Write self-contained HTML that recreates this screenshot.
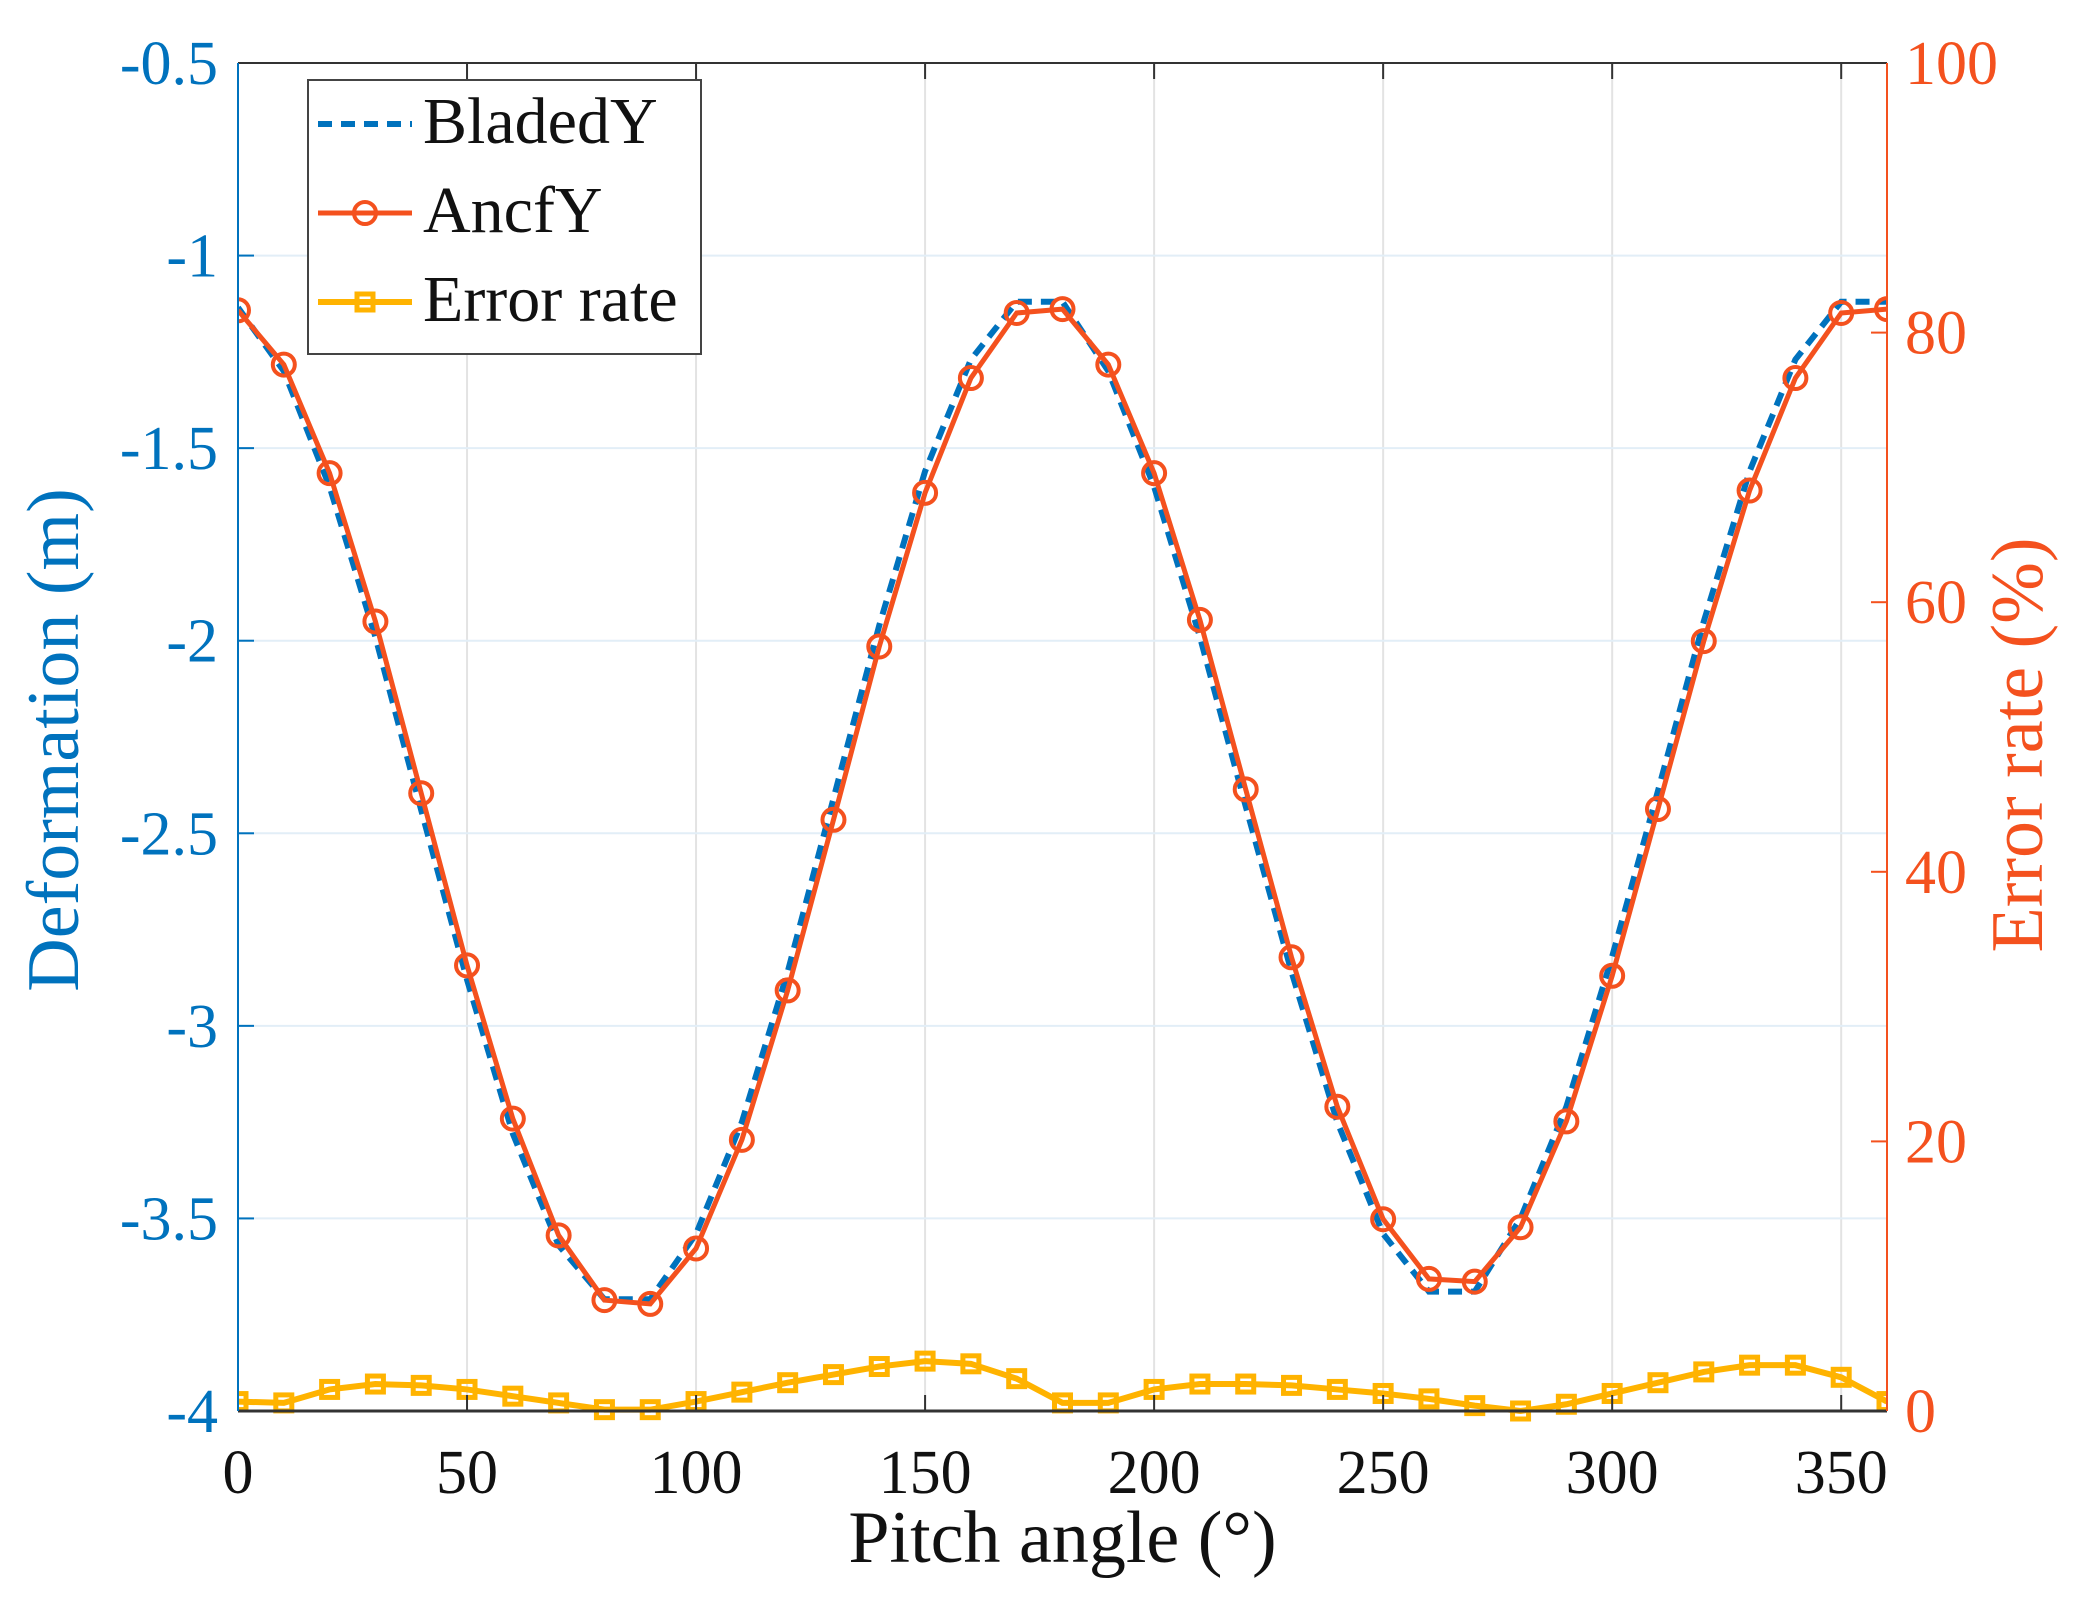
<!DOCTYPE html>
<html><head><meta charset="utf-8"><style>
html,body{margin:0;padding:0;background:#fff;}
svg{display:block;}
text{font-family:"Liberation Serif",serif;}
</style></head><body>
<svg id="chart" width="2073" height="1615" viewBox="0 0 2073 1615" xmlns="http://www.w3.org/2000/svg">
<rect width="2073" height="1615" fill="#fff"/>
<g id="grid"></g>
<g id="series"></g>
<g id="axes"></g>
<g id="legend">
  <rect x="308" y="80" width="393" height="274" fill="#fff" stroke="#444" stroke-width="2"/>
  <line x1="318" y1="124" x2="412" y2="124" stroke="#0072BD" stroke-width="6" stroke-dasharray="14,9"/>
  <text x="423" y="143" font-size="66" fill="#111">BladedY</text>
  <line x1="318" y1="213" x2="412" y2="213" stroke="#F4511E" stroke-width="5"/>
  <circle cx="365" cy="213" r="11" fill="none" stroke="#F4511E" stroke-width="4"/>
  <text x="423" y="232" font-size="66" fill="#111">AncfY</text>
  <line x1="318" y1="302" x2="412" y2="302" stroke="#FFB300" stroke-width="6"/>
  <rect x="357" y="294" width="16" height="16" fill="none" stroke="#FFB300" stroke-width="5"/>
  <text x="423" y="321" font-size="66" fill="#111">Error rate</text>
</g>
</svg>
<script>
const angles = [0,10,20,30,40,50,60,70,80,90,100,110,120,130,140,150,160,170,180,190,200,210,220,230,240,250,260,270,280,290,300,310,320,330,340,350,360];
const ancfY = [-1.142,-1.283,-1.565,-1.950,-2.396,-2.843,-3.241,-3.544,-3.712,-3.722,-3.578,-3.296,-2.908,-2.465,-2.015,-1.616,-1.318,-1.149,-1.139,-1.283,-1.565,-1.946,-2.386,-2.822,-3.210,-3.502,-3.657,-3.664,-3.523,-3.248,-2.870,-2.437,-2.001,-1.610,-1.318,-1.149,-1.139];
const bladedY = [-1.135,-1.30,-1.60,-1.99,-2.44,-2.88,-3.28,-3.57,-3.71,-3.71,-3.54,-3.25,-2.86,-2.41,-1.96,-1.56,-1.27,-1.12,-1.12,-1.30,-1.60,-1.99,-2.43,-2.86,-3.25,-3.54,-3.69,-3.69,-3.50,-3.21,-2.82,-2.39,-1.95,-1.56,-1.27,-1.12,-1.12];
const errorRate = [0.7,0.6,1.6,2.0,1.9,1.6,1.1,0.6,0.1,0.1,0.7,1.4,2.1,2.7,3.3,3.7,3.5,2.4,0.6,0.6,1.6,2.0,2.0,1.9,1.6,1.3,0.9,0.4,0.0,0.5,1.3,2.1,2.9,3.4,3.4,2.5,0.7];
const xTicks = [0,50,100,150,200,250,300,350];
const yLeftTicks = [-0.5,-1,-1.5,-2,-2.5,-3,-3.5,-4];
const yLeftLabels = ["-0.5","-1","-1.5","-2","-2.5","-3","-3.5","-4"];
const yRightTicks = [0,20,40,60,80,100];

const L=238,R=1887,T=63,B=1411;
const NS="http://www.w3.org/2000/svg";
const BLUE="#0072BD",ORANGE="#F4511E",YEL="#FFB300";
const xs=v=>L+(v-0)/(360-0)*(R-L);
const yl=v=>T+(-0.5-v)/3.5*(B-T);
const yr=v=>B-v/100*(B-T);
function mk(tag,attrs,parent){const e=document.createElementNS(NS,tag);for(const k in attrs)e.setAttribute(k,attrs[k]);parent.appendChild(e);return e;}
const grid=document.getElementById('grid'),axes=document.getElementById('axes'),ser=document.getElementById('series');

xTicks.forEach(t=>{
  const g=mk('line',{x1:xs(t),x2:xs(t),y1:T,y2:B,stroke:'#e3e3e3','stroke-width':2},grid);
  
  
  mk('line',{x1:xs(t),x2:xs(t),y1:B,y2:B-16,stroke:'#333','stroke-width':2},axes);
  mk('line',{x1:xs(t),x2:xs(t),y1:T,y2:T+16,stroke:'#333','stroke-width':2},axes);
  const tx=mk('text',{x:xs(t),y:B+82,'font-size':62,'text-anchor':'middle',fill:'#111'},axes);
  tx.textContent=t;
  
  
});
yLeftTicks.forEach((t,i)=>{
  const g=mk('line',{x1:L,x2:R,y1:yl(t),y2:yl(t),stroke:'#e2eef7','stroke-width':2},grid);
  
  
  mk('line',{x1:L,x2:L+16,y1:yl(t),y2:yl(t),stroke:BLUE,'stroke-width':2},axes);
  const tx=mk('text',{x:L-20,y:yl(t)+21,'font-size':62,'text-anchor':'end',fill:BLUE},axes);
  tx.textContent=yLeftLabels[i];
  
  
});
yRightTicks.forEach(t=>{
  mk('line',{x1:R,x2:R-16,y1:yr(t),y2:yr(t),stroke:ORANGE,'stroke-width':2},axes);
  const tx=mk('text',{x:R+18,y:yr(t)+21,'font-size':62,'text-anchor':'start',fill:ORANGE},axes);
  tx.textContent=t;
  
  
});
mk('line',{x1:L,x2:R,y1:T,y2:T,stroke:'#333','stroke-width':2},axes);
mk('line',{x1:L,x2:R,y1:B,y2:B,stroke:'#333','stroke-width':3},axes);
mk('line',{x1:L,x2:L,y1:T,y2:B,stroke:BLUE,'stroke-width':2},axes);
mk('line',{x1:R,x2:R,y1:T,y2:B,stroke:ORANGE,'stroke-width':2},axes);
let t1=mk('text',{x:(L+R)/2,y:1562,'font-size':74,'text-anchor':'middle',fill:'#111'},axes);
t1.textContent='Pitch angle (°)';


let t2=mk('text',{x:0,y:0,'font-size':74,'text-anchor':'middle',fill:BLUE,transform:'translate(78,740) rotate(-90)'},axes);
t2.textContent='Deformation (m)';


let t3=mk('text',{x:0,y:0,'font-size':74,'text-anchor':'middle',fill:ORANGE,transform:'translate(2042,745) rotate(-90)'},axes);
t3.textContent='Error rate (%)';



const clip=mk('clipPath',{id:'pc'},ser);mk('rect',{x:L,y:T-12,width:R-L,height:B-T+24},clip);
const sg=mk('g',{'clip-path':'url(#pc)'},ser);

const pb=mk('polyline',{points:angles.map((a,i)=>xs(a)+','+yl(bladedY[i])).join(' '),fill:'none',stroke:BLUE,'stroke-width':6,'stroke-dasharray':'14,9'},sg);


const pa=mk('polyline',{points:angles.map((a,i)=>xs(a)+','+yl(ancfY[i])).join(' '),fill:'none',stroke:ORANGE,'stroke-width':5},sg);


angles.forEach((a,i)=>{
  const c=mk('circle',{cx:xs(a),cy:yl(ancfY[i]),r:11,fill:'none',stroke:ORANGE,'stroke-width':4},sg);
  
  
});
const pe=mk('polyline',{points:angles.map((a,i)=>xs(a)+','+yr(errorRate[i])).join(' '),fill:'none',stroke:YEL,'stroke-width':6},sg);


angles.forEach((a,i)=>{
  const s=mk('rect',{x:xs(a)-8,y:yr(errorRate[i])-8,width:16,height:16,fill:'none',stroke:YEL,'stroke-width':5},sg);
  
  
});
</script>
</body></html>
